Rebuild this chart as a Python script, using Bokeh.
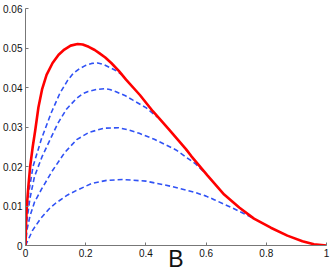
from bokeh.plotting import figure
from bokeh.models import Range1d, FixedTicker
from bokeh.embed import file_html
from bokeh.resources import INLINE

# red envelope
red_x = [0, 0.002, 0.0045, 0.009, 0.0155, 0.024, 0.032, 0.043, 0.055, 0.07, 0.09, 0.11, 0.129, 0.15, 0.173, 0.19,
         0.21, 0.23, 0.245, 0.265, 0.285, 0.31, 0.334, 0.38, 0.423, 0.475, 0.533, 0.55, 0.605, 0.66, 0.71, 0.759,
         0.815, 0.87, 0.92, 0.958, 1.0]
red_y = [0, 0.006, 0.01, 0.0145, 0.02, 0.025, 0.029, 0.035, 0.0395, 0.0432, 0.0462, 0.0483, 0.0496, 0.0506, 0.0510,
         0.0509, 0.0503, 0.0495, 0.0487, 0.0476, 0.0462, 0.0442, 0.042, 0.0381, 0.034, 0.0295, 0.0244, 0.0227,
         0.0177, 0.0129, 0.0096, 0.0068, 0.0045, 0.0025, 0.0011, 0.0003, 0]

# dashed curves
c1_x = [0, 0.003, 0.01, 0.025, 0.053, 0.085, 0.114, 0.14, 0.158, 0.18, 0.2, 0.22, 0.24, 0.26, 0.279, 0.3, 0.32]
c1_y = [0, 0.007, 0.013, 0.02, 0.027, 0.0335, 0.0385, 0.0418, 0.0435, 0.0448, 0.0456, 0.0461, 0.0462, 0.0458,
        0.0451, 0.0443, 0.0433]

c2_x = [0, 0.004, 0.015, 0.03, 0.055, 0.086, 0.108, 0.136, 0.169, 0.19, 0.208, 0.235, 0.263, 0.28, 0.301, 0.33,
        0.357, 0.4, 0.44]
c2_y = [0, 0.006, 0.012, 0.0175, 0.0225, 0.0275, 0.031, 0.0345, 0.0372, 0.0384, 0.039, 0.0395, 0.0397, 0.0395,
        0.0389, 0.038, 0.0368, 0.0349, 0.0324]

c3_x = [0, 0.005, 0.015, 0.03, 0.055, 0.09, 0.13, 0.17, 0.21, 0.26, 0.31, 0.345, 0.378, 0.428, 0.5, 0.566, 0.593]
c3_y = [0, 0.004, 0.0075, 0.011, 0.0145, 0.019, 0.0235, 0.0268, 0.0286, 0.0297, 0.0298, 0.0292, 0.0284, 0.0269,
        0.0242, 0.0206, 0.0186]

c4_x = [0, 0.008, 0.024, 0.05, 0.079, 0.1, 0.14, 0.168, 0.22, 0.27, 0.323, 0.4, 0.489, 0.561, 0.6, 0.627, 0.693, 0.76]
c4_y = [0, 0.0013, 0.0039, 0.0068, 0.0093, 0.0107, 0.0128, 0.0139, 0.0157, 0.0165, 0.0167, 0.0163, 0.0149,
        0.0135, 0.0125, 0.0116, 0.0093, 0.0068]

x_ticks = [0, 0.2, 0.4, 0.6, 0.8, 1]
x_tick_labels = {0: "0", 0.2: "0.2", 0.4: "0.4", 0.6: "0.6", 0.8: "0.8", 1: "1"}
y_ticks = [0, 0.01, 0.02, 0.03, 0.04, 0.05, 0.06]
y_tick_labels = {0: "0", 0.01: "0.01", 0.02: "0.02", 0.03: "0.03", 0.04: "0.04", 0.05: "0.05", 0.06: "0.06"}
x_label = "B"

p = figure(width=332, height=274, output_backend="svg", toolbar_location=None,
           x_range=Range1d(0, 1), y_range=Range1d(0, 0.06),
           min_border_left=24, min_border_right=6, min_border_top=8, min_border_bottom=27)
p.outline_line_color = None
p.grid.visible = False
p.background_fill_color = "white"
p.border_fill_color = "white"

for ax in (p.xaxis[0], p.yaxis[0]):
    ax.axis_line_color = "#777777"
    ax.major_tick_line_color = "#777777"
    ax.major_tick_in = 3
    ax.major_tick_out = 0
    ax.minor_tick_line_color = None
    ax.major_label_text_font = "Liberation Sans"
    ax.major_label_text_font_size = "10px"
    ax.major_label_text_color = "#111111"
    ax.major_label_standoff = 3

p.xaxis[0].ticker = FixedTicker(ticks=x_ticks)
p.xaxis[0].major_label_overrides = x_tick_labels
p.yaxis[0].ticker = FixedTicker(ticks=y_ticks)
p.yaxis[0].major_label_overrides = y_tick_labels
p.xaxis[0].major_label_standoff = 3

p.xaxis[0].axis_label = x_label
p.xaxis[0].axis_label_text_font = "Liberation Sans"
p.xaxis[0].axis_label_text_font_size = "23px"
p.xaxis[0].axis_label_text_font_style = "normal"
p.xaxis[0].axis_label_text_color = "#111111"
p.xaxis[0].axis_label_standoff = -14

blue = "#3052f5"
for cx, cy in ((c1_x, c1_y), (c2_x, c2_y), (c3_x, c3_y), (c4_x, c4_y)):
    p.line(cx, cy, line_color=blue, line_width=1.6, line_dash="5 3")

p.line(red_x, red_y, line_color="red", line_width=2.6)

html = file_html(p, INLINE)
html = html.replace("<head>", "<head><style>html,body{margin:0;padding:0;overflow:hidden}</style>", 1)
open("out.html", "w").write(html)
